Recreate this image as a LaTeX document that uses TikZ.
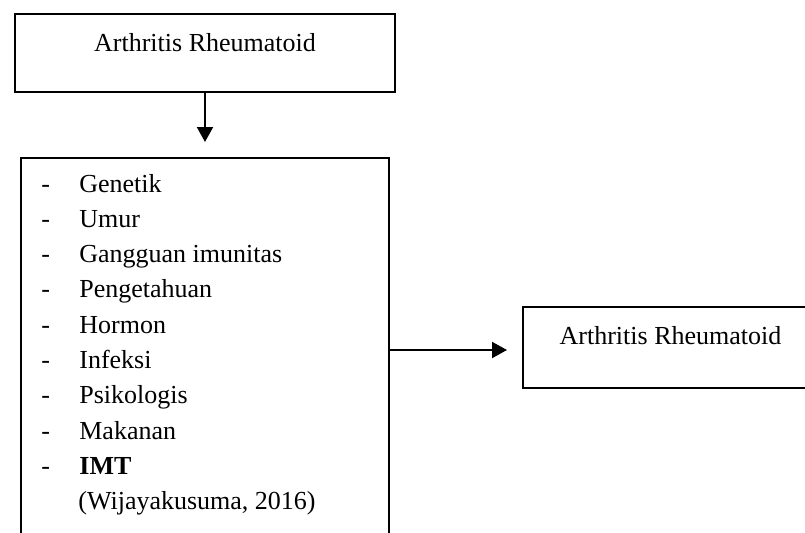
\documentclass[tikz,border=0pt]{standalone}
\usepackage{fontspec}
\setmainfont{Liberation Serif}
\usetikzlibrary{arrows.meta}
\tikzset{
  box/.style={draw,line width=1pt,rectangle,inner sep=0pt,anchor=north west},
  item/.style={anchor=base west,inner sep=0pt},
  arr/.style={line width=1pt,-{Triangle[length=7.5pt,width=8pt]}}
}
\begin{document}
\begin{tikzpicture}[x=0.5pt,y=-0.5pt,font=\fontsize{13pt}{15pt}\selectfont]
            \useasboundingbox (0,0) rectangle (805,532);
            \clip (0,0) rectangle (805,532);
            \node (ar) at (14,13) [box,minimum width=190pt,minimum height=39pt,text height=18.5pt,text depth=20.5pt] {Arthritis Rheumatoid};
            \node (list) at (20,157) [box,minimum width=184pt,minimum height=192pt] {};
            \node (res) at (522,306) [box,minimum width=147.5pt,minimum height=40.5pt,text height=18.5pt,text depth=22pt] {Arthritis Rheumatoid};
            \node (f1) at (41,192) [item] {\makebox[19pt][l]{-}Genetik};
            \node (f2) at (41,227.3) [item] {\makebox[19pt][l]{-}Umur};
            \node (f3) at (41,262.6) [item] {\makebox[19pt][l]{-}Gangguan imunitas};
            \node (f4) at (41,297.9) [item] {\makebox[19pt][l]{-}Pengetahuan};
            \node (f5) at (41,333.2) [item] {\makebox[19pt][l]{-}Hormon};
            \node (f6) at (41,368.5) [item] {\makebox[19pt][l]{-}Infeksi};
            \node (f7) at (41,403.8) [item] {\makebox[19pt][l]{-}Psikologis};
            \node (f8) at (41,439.1) [item] {\makebox[19pt][l]{-}Makanan};
            \node (f9) at (41,474.4) [item] {\makebox[19pt][l]{-}\textbf{IMT}};
            \node (src) at (78,509.7) [item] {(Wijayakusuma, 2016)};
            \draw[arr,shorten >=7.5pt] (ar.south) -- (list.north);
            \draw[arr,shorten >=7.5pt] (list.east) -- (list.east -| res.west);
        \end{tikzpicture}
\end{document}
